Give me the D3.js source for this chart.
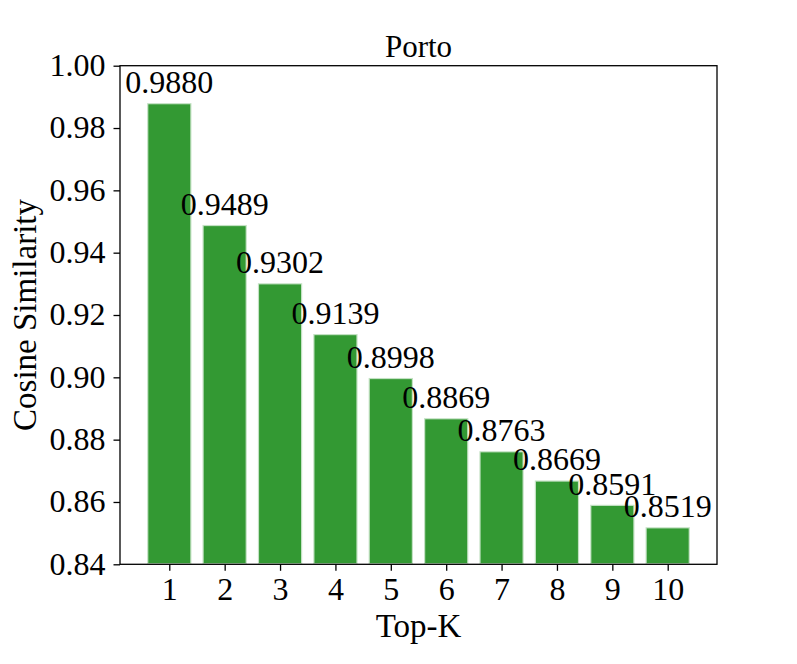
<!DOCTYPE html>
<html>
<head>
<meta charset="utf-8">
<script src="https://cdn.jsdelivr.net/npm/d3@7"></script>
<style>
  body { margin: 0; background: #fff; }
  text { font-family: "Liberation Serif", "Times New Roman", serif; fill: #000; }
</style>
</head>
<body>
<div id="chart"></div>
<script>
// data
var topK = [1, 2, 3, 4, 5, 6, 7, 8, 9, 10];
var similarity = [0.9880, 0.9489, 0.9302, 0.9139, 0.8998, 0.8869, 0.8763, 0.8669, 0.8591, 0.8519];
var yTicks = [0.84, 0.86, 0.88, 0.90, 0.92, 0.94, 0.96, 0.98, 1.00];

var W = 797, H = 664;
var margin = {top: 65.7, right: 80, bottom: 99.7, left: 120};
var width = W - margin.left - margin.right,
    height = H - margin.top - margin.bottom;
var barWidth = 0.8;
var fontSize = 32;

var svg = d3.select("#chart")
  .append("svg")
  .attr("width", W)
  .attr("height", H)
  .append("g")
  .attr("transform", "translate(" + margin.left + "," + margin.top + ")");

var x = d3.scaleLinear()
  .domain([0.11, 10.89])
  .range([0, width]);

var y = d3.scaleLinear()
  .domain([0.84, 1.00])
  .range([height, 0]);

// bars
svg.append("g")
  .selectAll("rect")
  .data(similarity)
  .enter()
  .append("rect")
    .attr("x", function (d, i) { return x(topK[i] - barWidth / 2); })
    .attr("width", x(barWidth) - x(0))
    .attr("y", function (d) { return y(d); })
    .attr("height", function (d) { return height - y(d); })
    .style("fill", "#339933")
    .style("stroke", "#ffffff")
    .style("stroke-opacity", 0.7)
    .style("stroke-width", 2.4);

// value labels
svg.append("g")
  .selectAll("text")
  .data(similarity)
  .enter()
  .append("text")
    .attr("x", function (d, i) { return x(topK[i]); })
    .attr("y", function (d) { return y(d) - 10; })
    .attr("text-anchor", "middle")
    .style("font-size", fontSize + "px")
    .text(function (d) { return d.toFixed(4); });

// axes
var xAxis = svg.append("g")
  .attr("transform", "translate(0," + height + ")")
  .call(d3.axisBottom(x).tickValues(topK).tickFormat(d3.format("d")).tickSize(6.5).tickPadding(6));

var yAxis = svg.append("g")
  .call(d3.axisLeft(y).tickValues(yTicks).tickFormat(d3.format(".2f")).tickSize(6.5).tickPadding(8));

[xAxis, yAxis].forEach(function (a) {
  a.select(".domain").remove();
  a.selectAll("line").attr("stroke", "#000").attr("stroke-width", 1.3);
  a.selectAll("text")
    .style("font-size", fontSize + "px")
    .attr("font-family", null);
});
yAxis.selectAll("text").attr("dy", "0.31em");
xAxis.selectAll("text").attr("dy", "0.71em");

// frame
svg.append("rect")
  .attr("x", 0)
  .attr("y", 0)
  .attr("width", width)
  .attr("height", height)
  .style("fill", "none")
  .style("stroke", "#000")
  .style("stroke-width", 1.3);

// title and axis labels
svg.append("text")
  .attr("x", width / 2)
  .attr("y", -9)
  .attr("text-anchor", "middle")
  .style("font-size", "31px")
  .text("Porto");

svg.append("text")
  .attr("x", width / 2)
  .attr("y", height + 73)
  .attr("text-anchor", "middle")
  .style("font-size", "33px")
  .text("Top-K");

svg.append("text")
  .attr("transform", "translate(" + (36 - margin.left) + "," + (height / 2) + ") rotate(-90)")
  .attr("text-anchor", "middle")
  .style("font-size", "33px")
  .text("Cosine Similarity");
</script>
</body>
</html>
